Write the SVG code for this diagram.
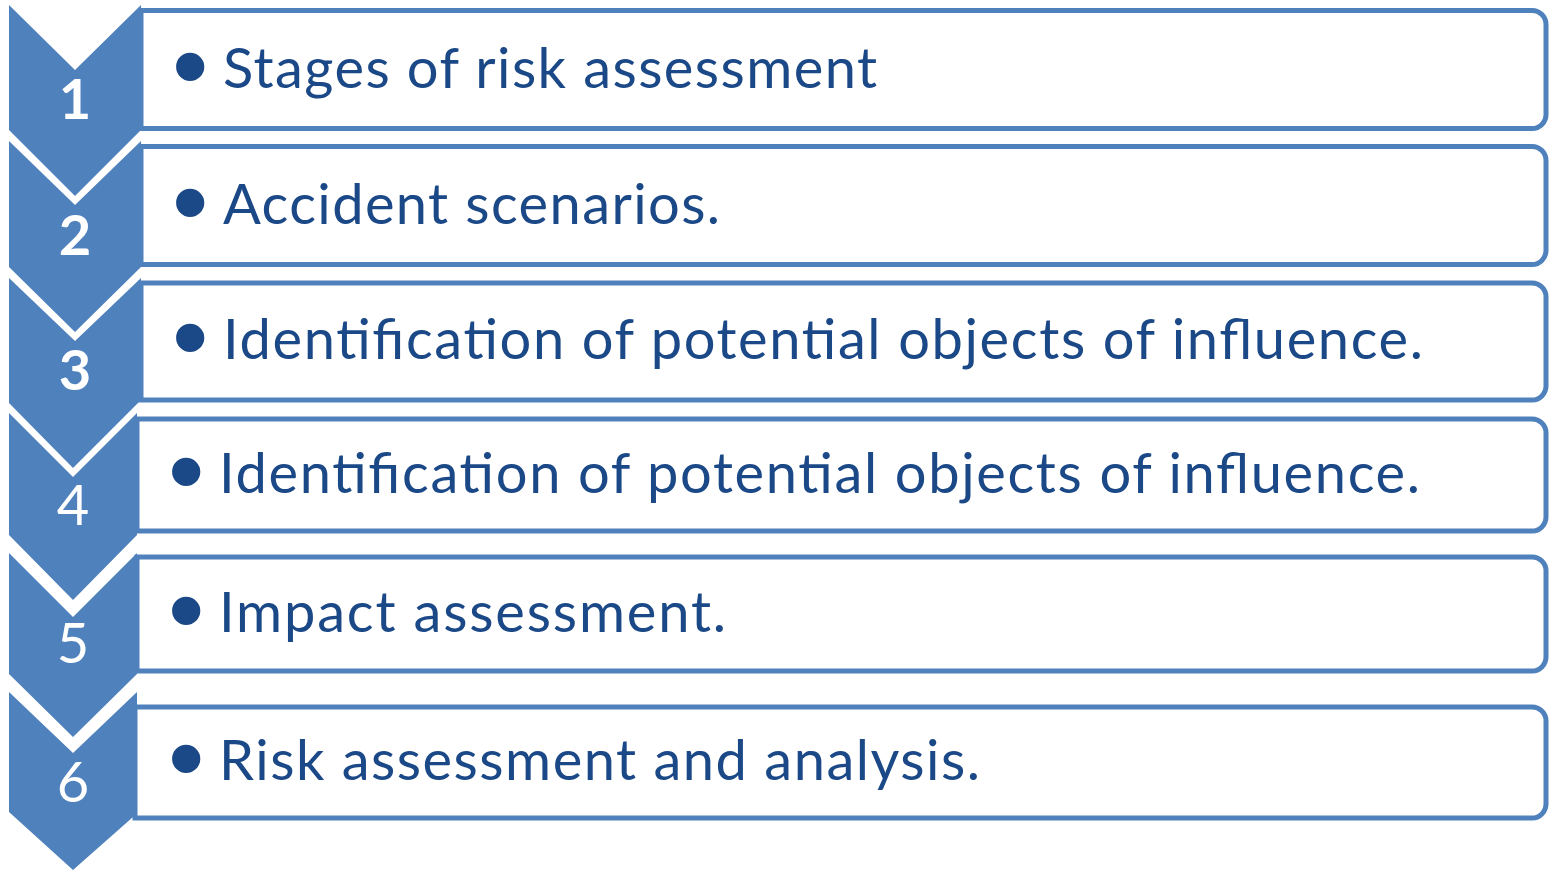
<svg xmlns="http://www.w3.org/2000/svg" width="1549" height="871" viewBox="0 0 1549 871">
  <style>
    .box { fill: #ffffff; stroke: #4F81BD; stroke-width: 5; }
    .chev { fill: #4F81BD; }
    .num { fill: #ffffff; font-family: Lato, "Open Sans", sans-serif; font-size: 56px; text-anchor: middle; }
    .num.b { font-weight: bold; }
    .label { fill: #1B4886; font-family: Lato, "Open Sans", sans-serif; font-size: 56px; }
    .dot { font-family: "Liberation Sans", Arial, sans-serif; font-size: 104px; }
  </style>
  <rect width="1549" height="871" fill="#ffffff"/>

  <!-- step 1 -->
  <g id="step1">
    <path class="box" d="M141,10.5 H1532 A14,14 0 0 1 1546,24.5 V114.5 A14,14 0 0 1 1532,128.5 H141 Z"/>
    <polygon class="chev" points="9,5 75,70 141,5 141,130 75,196 9,130"/>
    <text class="num b" x="75" y="119">1</text>
    <text class="label" y="88"><tspan class="dot" x="172" dy="13">•</tspan><tspan x="223" dy="-13" textLength="654">Stages of risk assessment</tspan></text>
  </g>

  <!-- step 2 -->
  <g id="step2">
    <path class="box" d="M141,146.5 H1532 A14,14 0 0 1 1546,160.5 V250.5 A14,14 0 0 1 1532,264.5 H141 Z"/>
    <polygon class="chev" points="9,141 75,205 141,141 141,267 75,332 9,267"/>
    <text class="num b" x="75" y="255">2</text>
    <text class="label" y="224"><tspan class="dot" x="172" dy="13">•</tspan><tspan x="223" dy="-13" textLength="497">Accident scenarios.</tspan></text>
  </g>

  <!-- step 3 -->
  <g id="step3">
    <path class="box" d="M141,283 H1532 A14,14 0 0 1 1546,297 V386 A14,14 0 0 1 1532,400 H141 Z"/>
    <polygon class="chev" points="9,278 75,341 141,278 141,400 138,403 73,468 9,403"/>
    <text class="num b" x="75" y="390">3</text>
    <text class="label" y="359"><tspan class="dot" x="172" dy="13">•</tspan><tspan x="223" dy="-13" textLength="1200">Identification of potential objects of influence.</tspan></text>
  </g>

  <!-- step 4 -->
  <g id="step4">
    <path class="box" d="M137,419 H1532 A14,14 0 0 1 1546,433 V517 A14,14 0 0 1 1532,531 H137 Z"/>
    <polygon class="chev" points="9,413 73,477 137,413 137,535 73,600 9,535"/>
    <text class="num" x="73" y="525">4</text>
    <text class="label" y="493"><tspan class="dot" x="168" dy="13">•</tspan><tspan x="219" dy="-13" textLength="1201">Identification of potential objects of influence.</tspan></text>
  </g>

  <!-- step 5 -->
  <g id="step5">
    <path class="box" d="M137,557 H1532 A14,14 0 0 1 1546,571 V657 A14,14 0 0 1 1532,671 H137 Z"/>
    <polygon class="chev" points="9,553 73,617 137,553 137,674 73,737 9,674"/>
    <text class="num" x="73" y="663">5</text>
    <text class="label" y="632"><tspan class="dot" x="168" dy="13">•</tspan><tspan x="219" dy="-13" textLength="507">Impact assessment.</tspan></text>
  </g>

  <!-- step 6 -->
  <g id="step6">
    <path class="box" d="M135,707 H1532 A14,14 0 0 1 1546,721 V804 A14,14 0 0 1 1532,818 H135 Z"/>
    <polygon class="chev" points="9,692 73,753 137,692 137,812 133,817 73,870 9,812"/>
    <text class="num" x="73" y="802">6</text>
    <text class="label" y="780"><tspan class="dot" x="168" dy="13">•</tspan><tspan x="219" dy="-13" textLength="761">Risk assessment and analysis.</tspan></text>
  </g>

  <!-- steps flow top to bottom through the chevrons; no separate connectors -->
  <g id="connectors"/>
</svg>
